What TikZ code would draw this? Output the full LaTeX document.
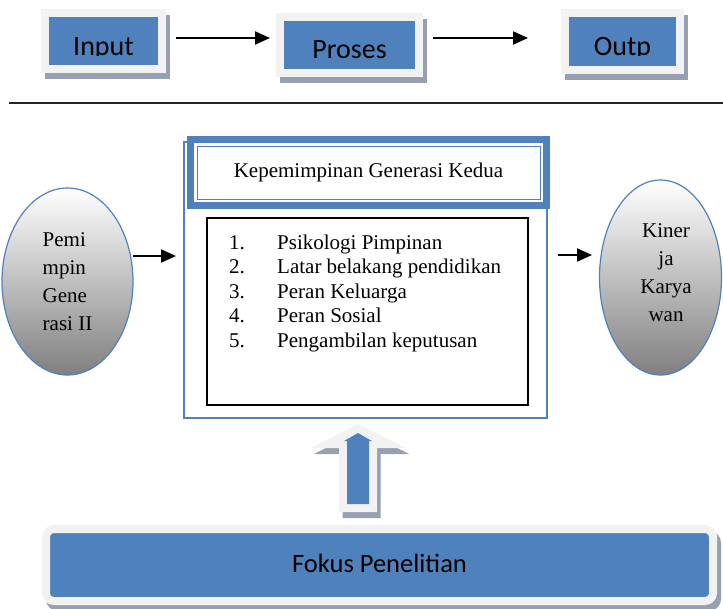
\documentclass[tikz,border=0pt]{standalone}
\usepackage{fontspec}
\setmainfont{Liberation Serif}
\newfontfamily\calibrifont{Carlito}
\usetikzlibrary{arrows.meta,shapes.geometric}
\definecolor{boxblue}{RGB}{79,129,189}
\definecolor{framegray}{RGB}{242,242,242}
\definecolor{shadowgray}{RGB}{150,160,176}
\tikzset{
    top-box/.style = {rectangle, draw=framegray, fill=boxblue, line width=8pt, inner sep=0pt, outer sep=0pt,
        preaction={draw=shadowgray, fill=shadowgray, line width=8pt, transform canvas={shift={(4pt,-6pt)}}}},
    box-text/.style = {font=\calibrifont\fontsize{28}{34}\selectfont, inner sep=0pt},
    flow-arrow/.style = {line width=2pt, -{Triangle[length=15pt, width=13pt]}},
    outer-frame/.style = {rectangle, draw=boxblue, line width=1.5pt, inner sep=0pt, outer sep=0pt},
    title-frame/.style = {rectangle, draw=boxblue, fill=white, line width=7pt, inner sep=0pt, outer sep=0pt},
    title-line/.style = {rectangle, draw=boxblue, line width=1pt, inner sep=0pt, outer sep=0pt, font=\fontsize{21}{25}\selectfont},
    list-frame/.style = {rectangle, draw=black, line width=1.2pt, inner sep=0pt, outer sep=0pt},
    list-text/.style = {inner sep=0pt, font=\fontsize{21}{24.4}\selectfont},
    oval/.style = {ellipse, draw=boxblue, line width=1.2pt, top color=white, bottom color=gray, inner sep=0pt, outer sep=0pt, font=\fontsize{21}{28}\selectfont},
}

\begin{document}
\begin{tikzpicture}[x=1pt, y=-1pt]
\useasboundingbox (0,0) rectangle (723,608);

% alur input - proses - output
\node[top-box, minimum width=117pt, minimum height=56pt] (input) at (103.5,41) {};
\node[top-box, minimum width=139pt, minimum height=56pt] (proses) at (349.5,45) {};
\node[top-box, minimum width=115pt, minimum height=57pt] (output) at (622.5,41.5) {};
\begin{scope}
    \clip (input.north west) rectangle ([yshift=-14.5pt]input.east);
    \node[box-text, anchor=base] (input-text) at ([yshift=-14pt]input.center) {Input};
\end{scope}
\node[box-text, anchor=base] (proses-text) at ([yshift=-13pt]proses.center) {Proses};
\begin{scope}
    \clip (output.north west) rectangle ([yshift=-14pt]output.east);
    \node[box-text, anchor=base] (output-text) at ([yshift=-13.5pt]output.center) {Outp};
\end{scope}
\coordinate (a1) at ([yshift=3pt]input.east);
\coordinate (a2) at ([yshift=7pt]proses.east);
\draw[flow-arrow, shorten <=14pt, shorten >=10pt] (a1) -- (a1 -| proses.west);
\draw[flow-arrow, shorten <=14pt, shorten >=37pt] (a2) -- (a2 -| output.west);

% garis pemisah
\coordinate (garis-kiri) at (9,103);
\coordinate (garis-kanan) at (723,103);
\draw[line width=2pt, black!85] (garis-kiri) -- (garis-kanan);

% kerangka kepemimpinan
\node[outer-frame, minimum width=363pt, minimum height=276pt] (kepemimpinan) at (365.5,280) {};
\node[title-frame, minimum width=356pt, minimum height=66pt] (judul-bingkai) at (368.5,172.5) {};
\node[title-line, minimum width=343pt, minimum height=53pt] (judul) at (judul-bingkai.center) {Kepemimpinan Generasi Kedua};
\node[list-frame, minimum width=321pt, minimum height=187pt] (faktor) at (367.5,311.5) {};
\node[list-text, anchor=base west] (daftar) at ([shift={(22,31.4)}]faktor.north west) {%
    \begin{tabular}[t]{@{}p{48pt}@{}l@{}}
    1. & Psikologi Pimpinan\\
    2. & Latar belakang pendidikan\\
    3. & Peran Keluarga\\
    4. & Peran Sosial\\
    5. & Pengambilan keputusan
    \end{tabular}};

% pemimpin dan kinerja
\node[oval, align=left, minimum width=131pt, minimum height=187pt] (pemimpin) at (67.5,281.5) {Pemi\\mpin\\Gene\\rasi II};
\node[oval, minimum width=122pt, minimum height=195pt] (kinerja) at (660.5,277.5) {};
\node[align=center, inner sep=0pt, font=\fontsize{21}{28}\selectfont] (kinerja-text) at ([shift={(5.5,-4.5)}]kinerja.center) {Kiner\\ja\\Karya\\wan};
\coordinate (b1) at ([yshift=25.5pt]pemimpin.east);
\coordinate (b2) at ([yshift=22.5pt]kinerja.west);
\draw[flow-arrow, shorten >=8pt] (b1) -- (b1 -| kepemimpinan.west);
\draw[flow-arrow, shorten <=11pt, shorten >=7.5pt] (b2 -| kepemimpinan.east) -- (b2);

% panah ke atas
\fill[shadowgray, shift={(361.5,430)}] (0,0) -- (47.5,24) -- (19,24) -- (19,88) -- (-19,88) -- (-19,24) -- (-47.5,24) -- cycle;
\fill[framegray, shift={(358,424)}] (0,0) -- (47.5,24) -- (19,24) -- (19,88) -- (-19,88) -- (-19,24) -- (-47.5,24) -- cycle;
\fill[boxblue, shift={(358,433)}] (0,0) -- (14,8) -- (11,8) -- (11,71) -- (-11,71) -- (-11,8) -- (-14,8) -- cycle;

% fokus penelitian
\node[top-box, rounded corners=8pt, minimum width=667pt, minimum height=72pt] (fokus) at (379.5,565) {};
\node[box-text, anchor=base, font=\calibrifont\fontsize{26.5}{32}\selectfont] (fokus-text) at ([yshift=-7pt]fokus.center) {Fokus Penelitian};
\end{tikzpicture}
\end{document}
